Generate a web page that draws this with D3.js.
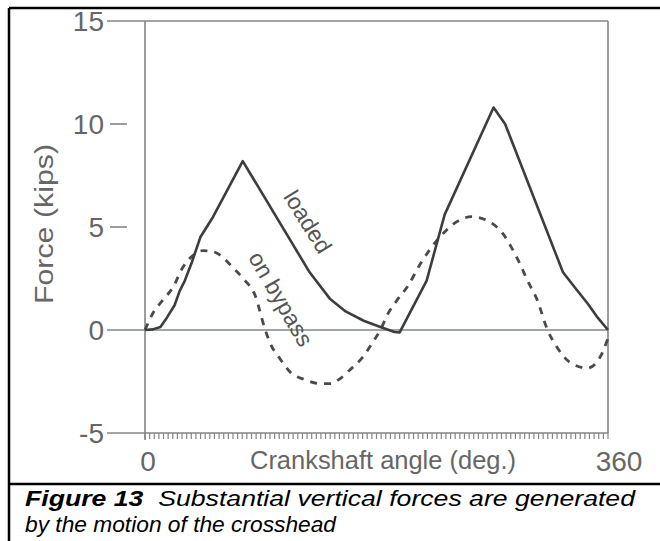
<!DOCTYPE html>
<html><head><meta charset="utf-8">
<script src="https://cdn.jsdelivr.net/npm/d3@7"></script>
<style>body{margin:0;background:#fff}svg{display:block}</style>
</head><body>
<script>
// ---- data ----
const loadedAngle = [0, 6, 12, 17, 23, 27, 31, 36.5, 43, 53, 76, 128, 144, 156, 170, 183, 194, 198, 204, 219, 233, 271, 280, 325, 335, 344, 352, 360];
const loadedForce = [0, 0.03, 0.15, 0.6, 1.2, 1.9, 2.4, 3.3, 4.5, 5.5, 8.2, 2.8, 1.5, 0.9, 0.45, 0.15, -0.1, -0.12, 0.6, 2.4, 5.6, 10.8, 10.0, 2.8, 2.0, 1.3, 0.6, 0];
const bypassAngle = [0, 6, 14, 22, 29, 37, 45, 53, 61, 68, 77, 85.5, 93, 97, 105, 113, 124, 136, 144, 152, 159, 169.5, 177, 183, 189, 196, 204, 214, 222, 232, 241, 254, 268, 278, 285, 292, 297, 305, 313, 320, 330, 344, 354, 360];
const bypassForce = [0, 0.8, 1.46, 2.1, 3.0, 3.6, 3.85, 3.8, 3.5, 3.05, 2.45, 1.7, 0.1, -0.6, -1.4, -2.05, -2.4, -2.6, -2.6, -2.35, -1.95, -1.3, -0.6, 0, 0.8, 1.45, 2.1, 3.2, 3.95, 4.7, 5.2, 5.5, 5.25, 4.7, 4.0, 3.15, 2.45, 1.45, 0, -0.8, -1.55, -1.85, -1.3, -0.4];
const yTickValues = [15, 10, 5, 0, -5];
const yTickLabels = ["15", "10", "5", "0", "-5"];
const xTickValues = [0, 360];
const xTickLabels = ["0", "360"];
const captionBold = "Figure 13";
const captionLine1 = "  Substantial vertical forces are generated";
const captionLine2 = "by the motion of the crosshead";

const W = 660, H = 541;
const FONT = "Arial, 'Liberation Sans', Helvetica, sans-serif";
const svg = d3.select("body").append("svg").attr("width", W).attr("height", H);

const x = d3.scaleLinear().domain([0, 360]).range([145, 608]);
const y = d3.scaleLinear().domain([-5, 15]).range([433, 21]);
const grey = "#858585";
const textGrey = "#666";

// outer frame
svg.append("line").attr("x1", 9).attr("x2", 662).attr("y1", 8).attr("y2", 8).attr("stroke", "#000").attr("stroke-width", 2.5);
svg.append("line").attr("x1", 9).attr("x2", 9).attr("y1", 8).attr("y2", 545).attr("stroke", "#000").attr("stroke-width", 2.5);
svg.append("line").attr("x1", 9).attr("x2", 662).attr("y1", 484).attr("y2", 484).attr("stroke", "#000").attr("stroke-width", 2.5);

// plot frame
const g = svg.append("g");
g.append("line").attr("x1", x(0)).attr("x2", x(0)).attr("y1", y(15)).attr("y2", y(-5) + 7).attr("stroke", grey).attr("stroke-width", 1.6);
g.append("line").attr("x1", x(360)).attr("x2", x(360)).attr("y1", y(15)).attr("y2", y(-5)).attr("stroke", grey).attr("stroke-width", 1.6);

// y ticks
yTickValues.forEach((v, i) => {
  const long = (v === 15 || v === 0 || v === -5);
  if (long) {
    g.append("line").attr("x1", 107).attr("x2", x(360)).attr("y1", y(v)).attr("y2", y(v))
      .attr("stroke", v === 0 ? "#7d8a8e" : grey).attr("stroke-width", 1.6);
  } else {
    g.append("line").attr("x1", 110).attr("x2", 127).attr("y1", y(v)).attr("y2", y(v))
      .attr("stroke", grey).attr("stroke-width", 1.6);
  }
  g.append("text").attr("x", 104).attr("y", y(v) + 10).attr("text-anchor", "end")
    .attr("font-family", FONT).attr("font-size", 28).attr("fill", textGrey).text(yTickLabels[i]);
});

// minor x ticks
const minor = d3.range(0, 361, 3.6);
g.selectAll(".mt").data(minor).enter().append("line")
  .attr("x1", d => x(d)).attr("x2", d => x(d)).attr("y1", y(-5)).attr("y2", y(-5) + 6)
  .attr("stroke", grey).attr("stroke-width", 1.2);

// x tick labels
xTickValues.forEach((v, i) => {
  g.append("text").attr("x", x(v) + (v === 0 ? 3 : 11)).attr("y", 471).attr("text-anchor", "middle")
    .attr("font-family", FONT).attr("font-size", 28).attr("fill", textGrey).text(xTickLabels[i]);
});

// axis titles
g.append("text").attr("x", 383).attr("y", 469).attr("text-anchor", "middle")
  .attr("font-family", FONT).attr("font-size", 25).attr("fill", textGrey)
  .attr("textLength", 266).attr("lengthAdjust", "spacingAndGlyphs").text("Crankshaft angle (deg.)");
g.append("text").attr("transform", "translate(53,224) rotate(-90)").attr("text-anchor", "middle")
  .attr("font-family", FONT).attr("font-size", 26).attr("fill", textGrey)
  .attr("textLength", 160).attr("lengthAdjust", "spacingAndGlyphs").text("Force (kips)");

// curves
const loaded = loadedAngle.map((a, i) => [a, loadedForce[i]]);
const bypass = bypassAngle.map((a, i) => [a, bypassForce[i]]);
const lineLin = d3.line().x(d => x(d[0])).y(d => y(d[1])).curve(d3.curveLinear);
const lineSmooth = d3.line().x(d => x(d[0])).y(d => y(d[1])).curve(d3.curveMonotoneX);

g.append("path").attr("d", lineSmooth(bypass)).attr("fill", "none").attr("stroke", "#4a4a4a")
  .attr("stroke-width", 2.8).attr("stroke-dasharray", "7,7");
g.append("path").attr("d", lineLin(loaded)).attr("fill", "none").attr("stroke", "#3d3d3d")
  .attr("stroke-width", 2.6).attr("stroke-linejoin", "round");

// curve labels
g.append("text").attr("transform", "translate(301,226) rotate(58)").attr("text-anchor", "middle")
  .attr("font-family", FONT).attr("font-size", 23).attr("fill", "#555").text("loaded");
g.append("text").attr("transform", "translate(274,303) rotate(60)").attr("text-anchor", "middle")
  .attr("font-family", FONT).attr("font-size", 23).attr("fill", "#555").text("on bypass");

// caption
const cap1 = svg.append("text").attr("x", 25).attr("y", 506).attr("font-family", FONT)
  .attr("font-size", 22.5).attr("font-style", "italic").attr("fill", "#000")
  .attr("textLength", 610).attr("lengthAdjust", "spacingAndGlyphs");
cap1.append("tspan").attr("font-weight", "bold").text(captionBold);
cap1.append("tspan").attr("xml:space", "preserve").style("white-space", "pre").text(captionLine1);
svg.append("text").attr("x", 25).attr("y", 532).attr("font-family", FONT)
  .attr("font-size", 22.5).attr("font-style", "italic").attr("fill", "#000")
  .attr("textLength", 311).attr("lengthAdjust", "spacingAndGlyphs").text(captionLine2);
</script>
</body></html>
